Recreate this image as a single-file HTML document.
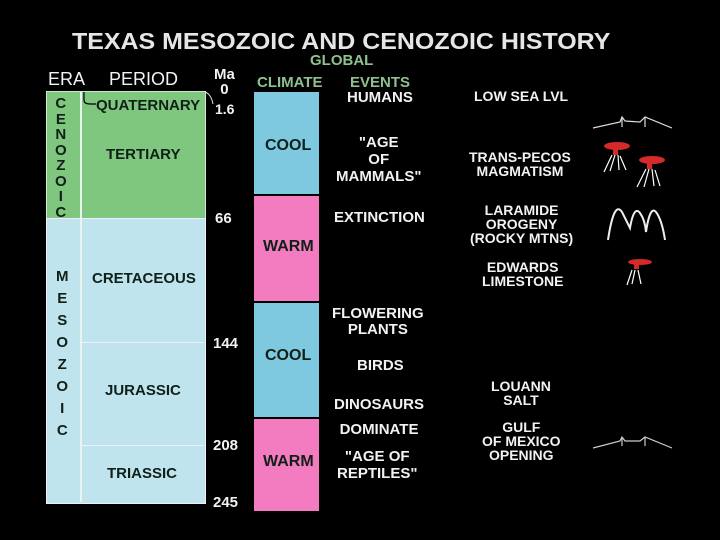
<!DOCTYPE html>
<html><head><meta charset="utf-8"><style>
body{margin:0;background:#000;}
#c{position:relative;width:720px;height:540px;background:#000;overflow:hidden;font-family:"Liberation Sans",sans-serif;font-weight:bold;}
.t{position:absolute;white-space:nowrap;line-height:1;text-align:center;}
.w{color:#f2f2f2}.g{color:#8fc08f}.k{color:#102018}
.box{position:absolute}
</style></head><body>
<div id="c">
<div class="t w" style="left:72px;top:30px;font-size:23px;color:#e6e6e6;transform:scaleX(1.085);transform-origin:left">TEXAS MESOZOIC AND CENOZOIC HISTORY</div>
<div class="t w" style="left:48px;top:70px;font-size:18px;font-weight:normal">ERA</div>
<div class="t w" style="left:109px;top:70px;font-size:18px;font-weight:normal">PERIOD</div>
<div class="t w" style="left:214px;top:67px;font-size:15px">Ma<br>0</div>
<div class="t w" style="left:215px;top:102px;font-size:14px">1.6</div>
<div class="t g" style="left:310px;top:53px;font-size:15px">GLOBAL</div>
<div class="t g" style="left:257px;top:75px;font-size:15px">CLIMATE</div>
<div class="t g" style="left:350px;top:75px;font-size:15px">EVENTS</div>

<div class="box" style="left:46px;top:91px;width:158px;height:126px;background:#7fc67e;border:1px solid #cfe9cf"></div>
<div class="box" style="left:46px;top:218px;width:158px;height:284px;background:#bfe4ee;border:1px solid #eef"></div>
<div class="box" style="left:80px;top:92px;width:2px;height:410px;background:#e8f4f0"></div>
<div class="box" style="left:82px;top:342px;width:122px;height:1px;background:#eef"></div>
<div class="box" style="left:82px;top:445px;width:122px;height:1px;background:#eef"></div>
<div class="t k" style="left:55px;top:96px;font-size:15px;line-height:15.5px">C<br>E<br>N<br>O<br>Z<br>O<br>I<br>C</div>
<div class="t k" style="left:56px;top:266px;font-size:15px;line-height:22px">M<br>E<br>S<br>O<br>Z<br>O<br>I<br>C</div>
<svg style="position:absolute;left:0;top:0" width="720" height="540">
<path d="M84 92 V100 Q84 104 90 104 H96" stroke="#000" fill="none" stroke-width="1.2"/>
<path d="M205 92 Q211 94 213 104" stroke="#ddd" fill="none" stroke-width="1"/>
</svg>
<div class="t k" style="left:96px;top:98px;font-size:15px">QUATERNARY</div>
<div class="t k" style="left:106px;top:147px;font-size:15px">TERTIARY</div>
<div class="t k" style="left:92px;top:271px;font-size:15px">CRETACEOUS</div>
<div class="t k" style="left:105px;top:383px;font-size:15px">JURASSIC</div>
<div class="t k" style="left:107px;top:466px;font-size:15px">TRIASSIC</div>
<div class="t w" style="left:215px;top:211px;font-size:15px">66</div>
<div class="t w" style="left:213px;top:336px;font-size:15px">144</div>
<div class="t w" style="left:213px;top:438px;font-size:15px">208</div>
<div class="t w" style="left:213px;top:495px;font-size:15px">245</div>

<div class="box" style="left:254px;top:92px;width:65px;height:102px;background:#7ec9df"></div>
<div class="box" style="left:254px;top:196px;width:65px;height:105px;background:#f27cbf"></div>
<div class="box" style="left:254px;top:303px;width:65px;height:114px;background:#7ec9df"></div>
<div class="box" style="left:254px;top:419px;width:65px;height:92px;background:#f27cbf"></div>
<div class="t k" style="left:265px;top:138px;font-size:16px">COOL</div>
<div class="t k" style="left:263px;top:239px;font-size:16px">WARM</div>
<div class="t k" style="left:265px;top:348px;font-size:16px">COOL</div>
<div class="t k" style="left:263px;top:454px;font-size:16px">WARM</div>

<div class="t w" style="left:347px;top:90px;font-size:15px">HUMANS</div>
<div class="t w" style="left:336px;top:134px;font-size:15px;line-height:17px">"AGE<br>OF<br>MAMMALS"</div>
<div class="t w" style="left:334px;top:210px;font-size:15px">EXTINCTION</div>
<div class="t w" style="left:332px;top:306px;font-size:15px;line-height:16px">FLOWERING<br>PLANTS</div>
<div class="t w" style="left:357px;top:358px;font-size:15px">BIRDS</div>
<div class="t w" style="left:334px;top:392px;font-size:15px;line-height:25px">DINOSAURS<br>DOMINATE</div>
<div class="t w" style="left:337px;top:448px;font-size:15px;line-height:17px">"AGE OF<br>REPTILES"</div>

<div class="t w" style="left:474px;top:89px;font-size:14px">LOW SEA LVL</div>
<div class="t w" style="left:469px;top:150px;font-size:14px;line-height:14px">TRANS-PECOS<br>MAGMATISM</div>
<div class="t w" style="left:470px;top:203px;font-size:14px;line-height:14px">LARAMIDE<br>OROGENY<br>(ROCKY MTNS)</div>
<div class="t w" style="left:482px;top:260px;font-size:14px;line-height:14px">EDWARDS<br>LIMESTONE</div>
<div class="t w" style="left:491px;top:379px;font-size:14px;line-height:14px">LOUANN<br>SALT</div>
<div class="t w" style="left:482px;top:420px;font-size:14px;line-height:14px">GULF<br>OF MEXICO<br>OPENING</div>

<svg style="position:absolute;left:0;top:0" width="720" height="540">
<g stroke="#ddd" fill="none" stroke-width="1.2">
<path d="M593 128 L620 122 L622 117 L625 121 L640 122 L645 117 L672 128 M622 117 V127 M645 117 V127"/></g>
<g><ellipse cx="617" cy="146" rx="13" ry="4" fill="#d42a2a"/><rect x="613" y="146" width="5" height="9" fill="#d42a2a"/><path d="M612 155 L604 172 M615 155 L610 171 M618 155 L619 170 M620 156 L626 170" stroke="#fff" stroke-width="1.2"/></g>
<g><ellipse cx="652" cy="160" rx="13" ry="4" fill="#d42a2a"/><rect x="647" y="160" width="5" height="9" fill="#d42a2a"/><path d="M646 169 L637 187 M649 169 L644 187 M652 169 L654 186 M655 170 L660 186" stroke="#fff" stroke-width="1.2"/></g>
<g stroke="#eee" fill="none" stroke-width="2"><path d="M608 240 Q614 200 622 212 Q626 220 630 228 Q634 205 640 213 Q645 220 646 232 Q650 205 656 212 Q662 220 665 240"/></g>
<g><ellipse cx="640" cy="262" rx="12" ry="3" fill="#d42a2a"/><rect x="634" y="262" width="5" height="7" fill="#d42a2a"/><path d="M632 270 L627 285 M635 270 L632 284 M638 270 L641 284" stroke="#fff" stroke-width="1.2"/></g>
<g stroke="#ccc" fill="none" stroke-width="1.2">
<path d="M593 448 L620 441 L622 437 L625 441 L640 441 L645 437 L672 448 M622 437 V446 M645 437 V446"/></g>
</svg>
</div>
</body></html>
